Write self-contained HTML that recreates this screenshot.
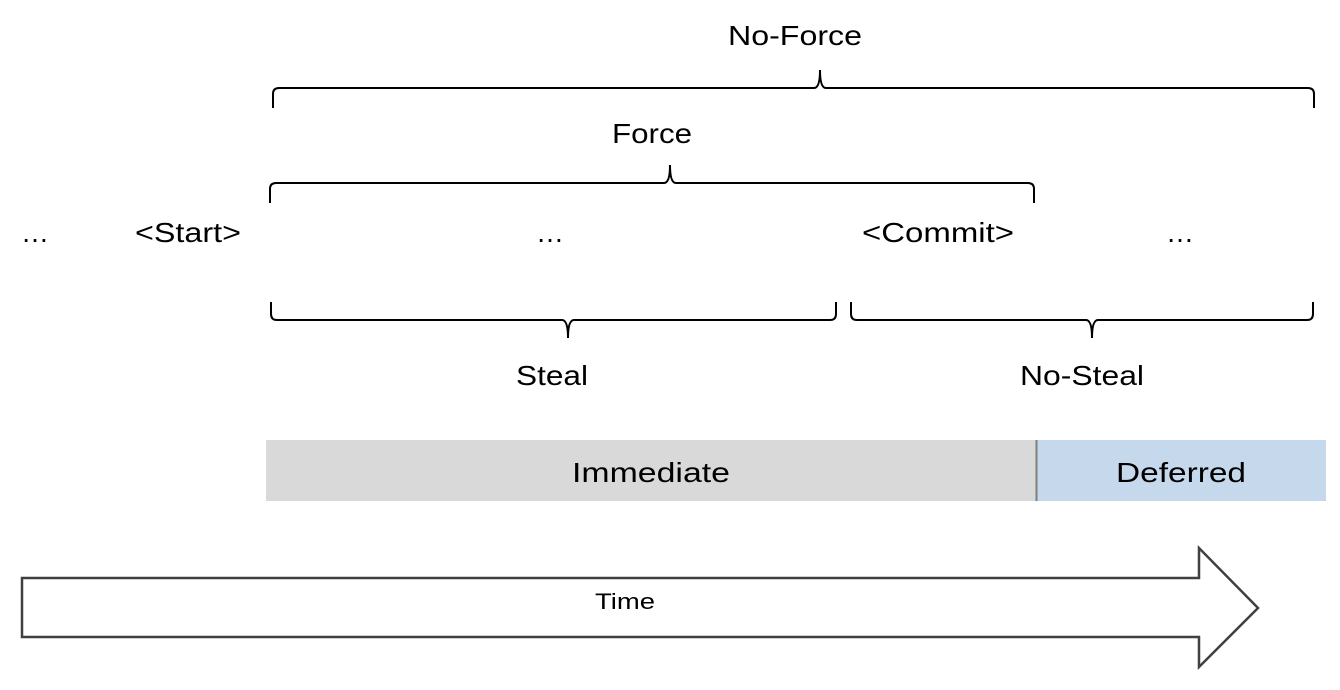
<!DOCTYPE html>
<html><head><meta charset="utf-8"><style>
html,body{margin:0;padding:0;background:#fff;width:1340px;height:690px;overflow:hidden}
svg{display:block}
text{font-family:"Liberation Sans",sans-serif;fill:#000}
</style></head><body>
<svg width="1340" height="690" viewBox="0 0 1340 690" xmlns="http://www.w3.org/2000/svg">
<g fill="none" stroke="#000" stroke-width="2">
<!-- No-Force brace (opening down) -->
<path d="M273 108 L273 94 Q273 88 279 88 L814 88 Q820 88 820 70 Q820 88 826 88 L1308 88 Q1314 88 1314 94 L1314 108"/>
<!-- Force brace -->
<path d="M270 203 L270 189 Q270 183 276 183 L664 183 Q670 183 670 165 Q670 183 676 183 L1028 183 Q1034 183 1034 189 L1034 203"/>
<!-- Steal brace (opening up) -->
<path d="M271 302 L271 314 Q271 320 277 320 L562 320 Q568 320 568 338 Q568 320 574 320 L830 320 Q836 320 836 314 L836 302"/>
<!-- No-Steal brace -->
<path d="M851 302 L851 314 Q851 320 857 320 L1086 320 Q1092 320 1092 338 Q1092 320 1098 320 L1307 320 Q1313 320 1313 314 L1313 302"/>
</g>
<text x="795" y="45" font-size="28" text-anchor="middle" textLength="134" lengthAdjust="spacingAndGlyphs">No-Force</text>
<text x="652" y="143" font-size="28" text-anchor="middle" textLength="80" lengthAdjust="spacingAndGlyphs">Force</text>
<text x="35" y="242" font-size="28" text-anchor="middle">…</text>
<text x="188" y="242" font-size="28" text-anchor="middle" textLength="106" lengthAdjust="spacingAndGlyphs">&lt;Start&gt;</text>
<text x="550" y="242" font-size="28" text-anchor="middle">…</text>
<text x="938" y="242" font-size="28" text-anchor="middle" textLength="152" lengthAdjust="spacingAndGlyphs">&lt;Commit&gt;</text>
<text x="1180" y="242" font-size="28" text-anchor="middle">…</text>
<text x="552" y="385" font-size="28" text-anchor="middle" textLength="72" lengthAdjust="spacingAndGlyphs">Steal</text>
<text x="1082" y="385" font-size="28" text-anchor="middle" textLength="124" lengthAdjust="spacingAndGlyphs">No-Steal</text>
<rect x="266" y="440" width="770" height="61" fill="#d9d9d9"/>
<rect x="1036" y="440" width="290" height="61" fill="#c5d8ec"/>
<line x1="1036.5" y1="440" x2="1036.5" y2="501" stroke="#7f7f7f" stroke-width="2"/>
<text x="651" y="482" font-size="28" text-anchor="middle" textLength="158" lengthAdjust="spacingAndGlyphs">Immediate</text>
<text x="1181" y="482" font-size="28" text-anchor="middle" textLength="130" lengthAdjust="spacingAndGlyphs">Deferred</text>
<path d="M22 578 L1199 578 L1199 548 L1258 608 L1199 667 L1199 637 L22 637 Z" fill="#fff" stroke="#404040" stroke-width="2.5"/>
<text x="625" y="609" font-size="22" text-anchor="middle" textLength="60" lengthAdjust="spacingAndGlyphs">Time</text>
</svg>
</body></html>
